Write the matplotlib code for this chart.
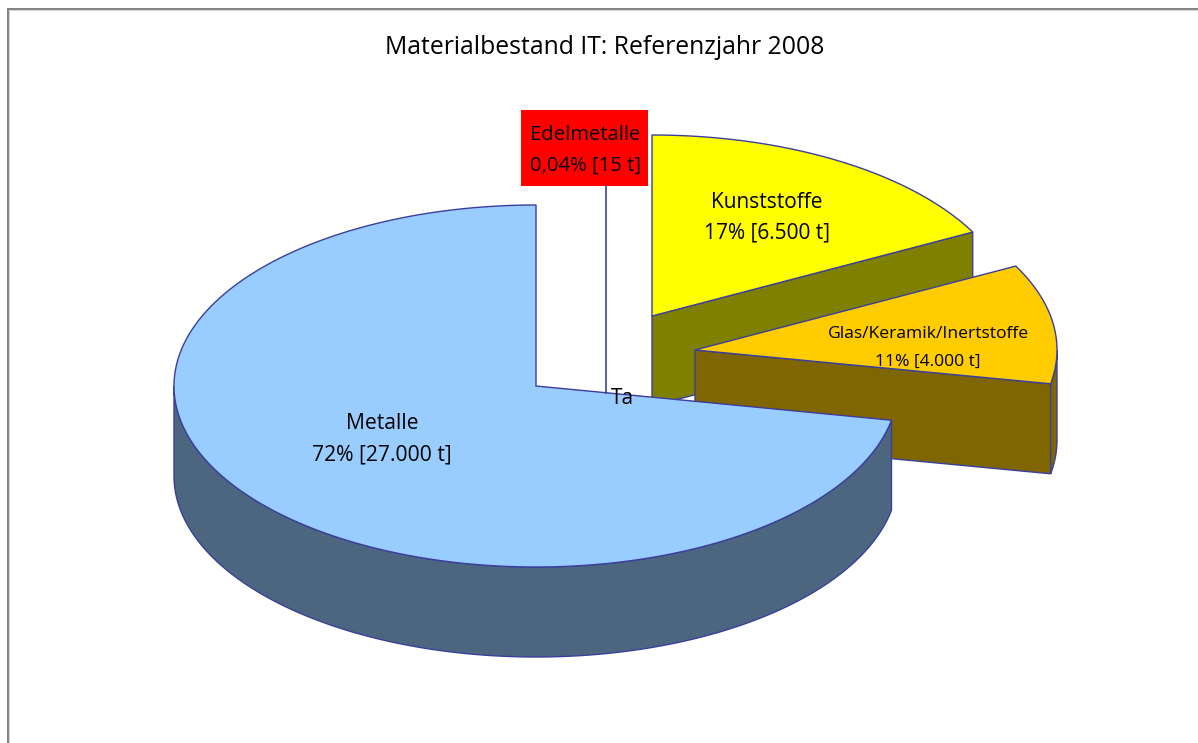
#!/usr/bin/env python3
"""Materialbestand IT: 3D-Torte, von Hand aus Polygonen gebaut."""
import numpy as np
import matplotlib
matplotlib.use("Agg")
import matplotlib.pyplot as plt
from matplotlib.patches import Polygon, Rectangle

plt.rcParams["font.family"] = ["Open Sans", "DejaVu Sans"]

# Werte im Uhrzeigersinn ab 12 Uhr
categories = ["Kunststoffe", "Glas/Keramik/Inertstoffe", "Edelmetalle", "Metalle"]
tonnes = [6500, 4000, 15, 27000]
percent_labels = ["17% [6.500 t]", "11% [4.000 t]", "0,04% [15 t]", "72% [27.000 t]"]
title = "Materialbestand IT: Referenzjahr 2008"

top_colors = ["#FFFF00", "#FFCC00", "#FF0000", "#99CCFF"]
side_colors = ["#808000", "#806600", "#800000", "#4D6680"]
centers = [(652, 316), (695, 350), (536, 386), (536, 386)]
label_pos = [(767, 218), (928, 348), (585, 150), (382, 439)]
label_size = [15, 12.6, 14.6, 15.2]
label_gap = [31, 27, 31, 31]

RX, RY, DEPTH = 362, 181, 90
EDGE = "#3A3F9E"


def rim(center, a, b):
    t = np.radians(np.linspace(a, b, max(int(abs(b - a) * 2), 2)))
    return np.column_stack([center[0] + RX * np.sin(t), center[1] - RY * np.cos(t)])


def draw_slice(ax, center, a, b, top, side, edge):
    down = np.array([0, DEPTH])
    # Schnittflaeche zum Betrachter
    if b < 180:
        p = rim(center, b, b + 0.001)[0]
        c = np.array(center, dtype=float)
        ax.add_patch(Polygon([c, p, p + down, c + down], fc=side, ec=edge, lw=1))
    # Aussenwand, nur vordere Haelfte sichtbar
    lo, hi = max(a, 90), min(b, 270)
    if lo < hi:
        r = rim(center, lo, hi)
        ax.add_patch(Polygon(np.vstack([r, (r + down)[::-1]]), fc=side, ec=edge, lw=1))
    pts = np.vstack([[center], rim(center, a, b)])
    ax.add_patch(Polygon(pts, fc=top, ec=edge, lw=1))


fig = plt.figure(figsize=(11.98, 7.43), dpi=100)
ax = fig.add_axes([0, 0, 1, 1])
ax.set_xlim(0, 1198)
ax.set_ylim(743, 0)
ax.axis("off")

# Rahmen
ax.plot([7.5, 7.5, 1198], [743, 8.5, 8.5], color="#808080", lw=1.4, solid_joinstyle="miter")
ax.plot([9, 9, 1198], [743, 10, 10], color="#D8D8D8", lw=0.8)

ax.text(605, 47, title, ha="center", va="center", fontsize=17.8)

angles = np.cumsum([0] + tonnes) / sum(tonnes) * 360
for i, name in enumerate(categories):
    edge = "none" if name == "Edelmetalle" else EDGE
    draw_slice(ax, centers[i], angles[i], angles[i + 1], top_colors[i], side_colors[i], edge)

# Edelmetalle: Beschriftung abgesetzt mit Fuehrungslinie
ax.add_patch(Rectangle((521, 110), 127, 76, fc="#FF0000", ec="none", zorder=3))
ax.plot([606, 606], [186, 393], color=EDGE, lw=1.2, zorder=3)
ax.text(622, 398, "Ta", ha="center", va="center", fontsize=15, zorder=4)

for i, name in enumerate(categories):
    x, y = label_pos[i]
    g = label_gap[i] / 2
    ax.text(x, y - g, name, ha="center", va="center", fontsize=label_size[i], zorder=4)
    ax.text(x, y + g, percent_labels[i], ha="center", va="center", fontsize=label_size[i], zorder=4)

fig.savefig("out.png", dpi=100)
